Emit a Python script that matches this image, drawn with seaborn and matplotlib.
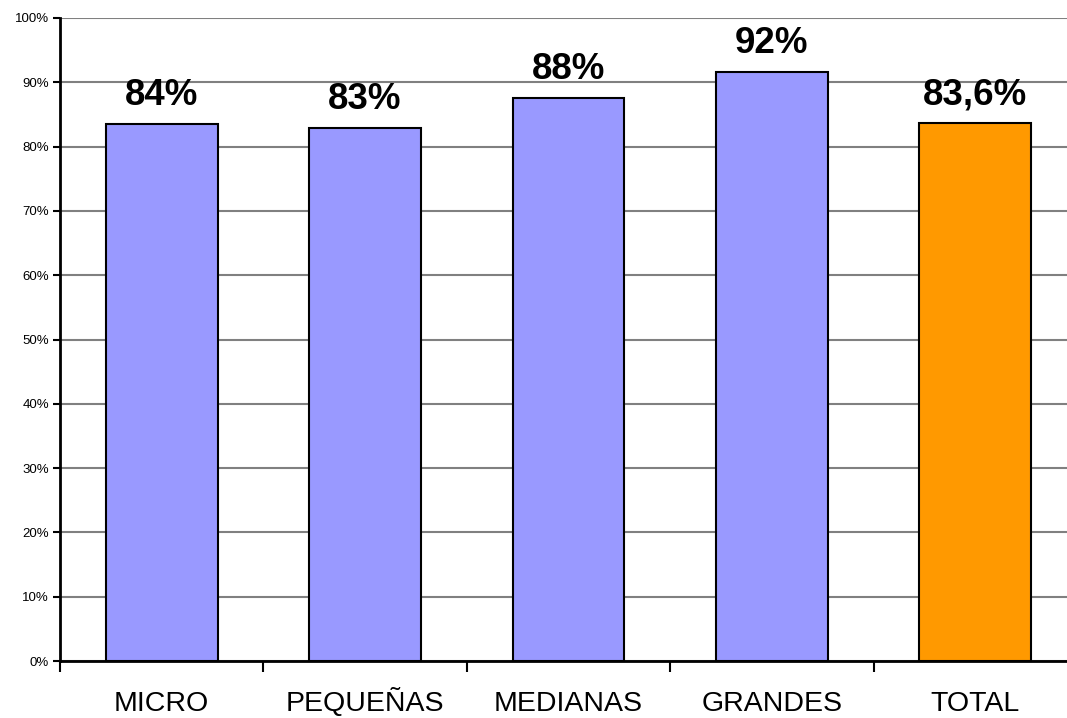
import matplotlib
matplotlib.use('Agg')
import matplotlib.pyplot as plt
import seaborn as sns
import pandas as pd
from matplotlib.ticker import PercentFormatter, FixedLocator

categorias = ['MICRO', 'PEQUEÑAS', 'MEDIANAS', 'GRANDES', 'TOTAL']
valores = [0.835, 0.829, 0.876, 0.916, 0.836]
etiquetas = ['84%', '83%', '88%', '92%', '83,6%']
grupo = ['tam', 'tam', 'tam', 'tam', 'total']
colores = {'tam': '#9999FF', 'total': '#FF9900'}

sns.set_style('white')
plt.rcParams['font.family'] = ['Liberation Sans', 'DejaVu Sans']
plt.rcParams['text.color'] = 'black'
plt.rcParams['xtick.color'] = 'black'
plt.rcParams['ytick.color'] = 'black'

df = pd.DataFrame({'cat': categorias, 'val': valores, 'grupo': grupo})

fig = plt.figure(figsize=(10.67, 7.18), dpi=100)
ax = fig.add_axes([60 / 1067, 1 - 661 / 718, 1017 / 1067, 643 / 718])

sns.barplot(data=df, x='cat', y='val', hue='grupo', palette=colores,
            dodge=False, width=0.55, saturation=1, edgecolor='black',
            linewidth=1.5, legend=False, ax=ax, zorder=3)

ax.set_ylim(0, 1)
ax.set_xlim(-0.5, 4.5)
ax.set_yticks([i / 10 for i in range(11)])
ax.yaxis.set_major_formatter(PercentFormatter(1.0, decimals=0))
ax.yaxis.grid(True, color='#808080', linewidth=1.5, zorder=0)
ax.set_axisbelow(True)

ax.xaxis.set_minor_locator(FixedLocator([i - 0.5 for i in range(6)]))
ax.tick_params(axis='x', which='major', length=0, pad=36, labelsize=20.5)
ax.tick_params(axis='x', which='minor', length=8, width=1.5, direction='out')
ax.tick_params(axis='y', which='major', length=5, width=1.5,
               direction='out', pad=3, labelsize=9.5)
ax.tick_params(bottom=True, left=True, which='both')
for lbl in ax.get_xticklabels():
    lbl.set_verticalalignment('baseline')

for s in ['top', 'right']:
    ax.spines[s].set_visible(False)
for s in ['left', 'bottom']:
    ax.spines[s].set_color('black')
    ax.spines[s].set_linewidth(2)

for i, (v, t) in enumerate(zip(valores, etiquetas)):
    ax.annotate(t, (i, v), xytext=(0, 13.5), textcoords='offset points',
                ha='center', va='baseline', fontsize=26.5, fontweight='bold',
                color='black')

ax.set_xlabel('')
ax.set_ylabel('')

fig.savefig('out.png', dpi=100)
